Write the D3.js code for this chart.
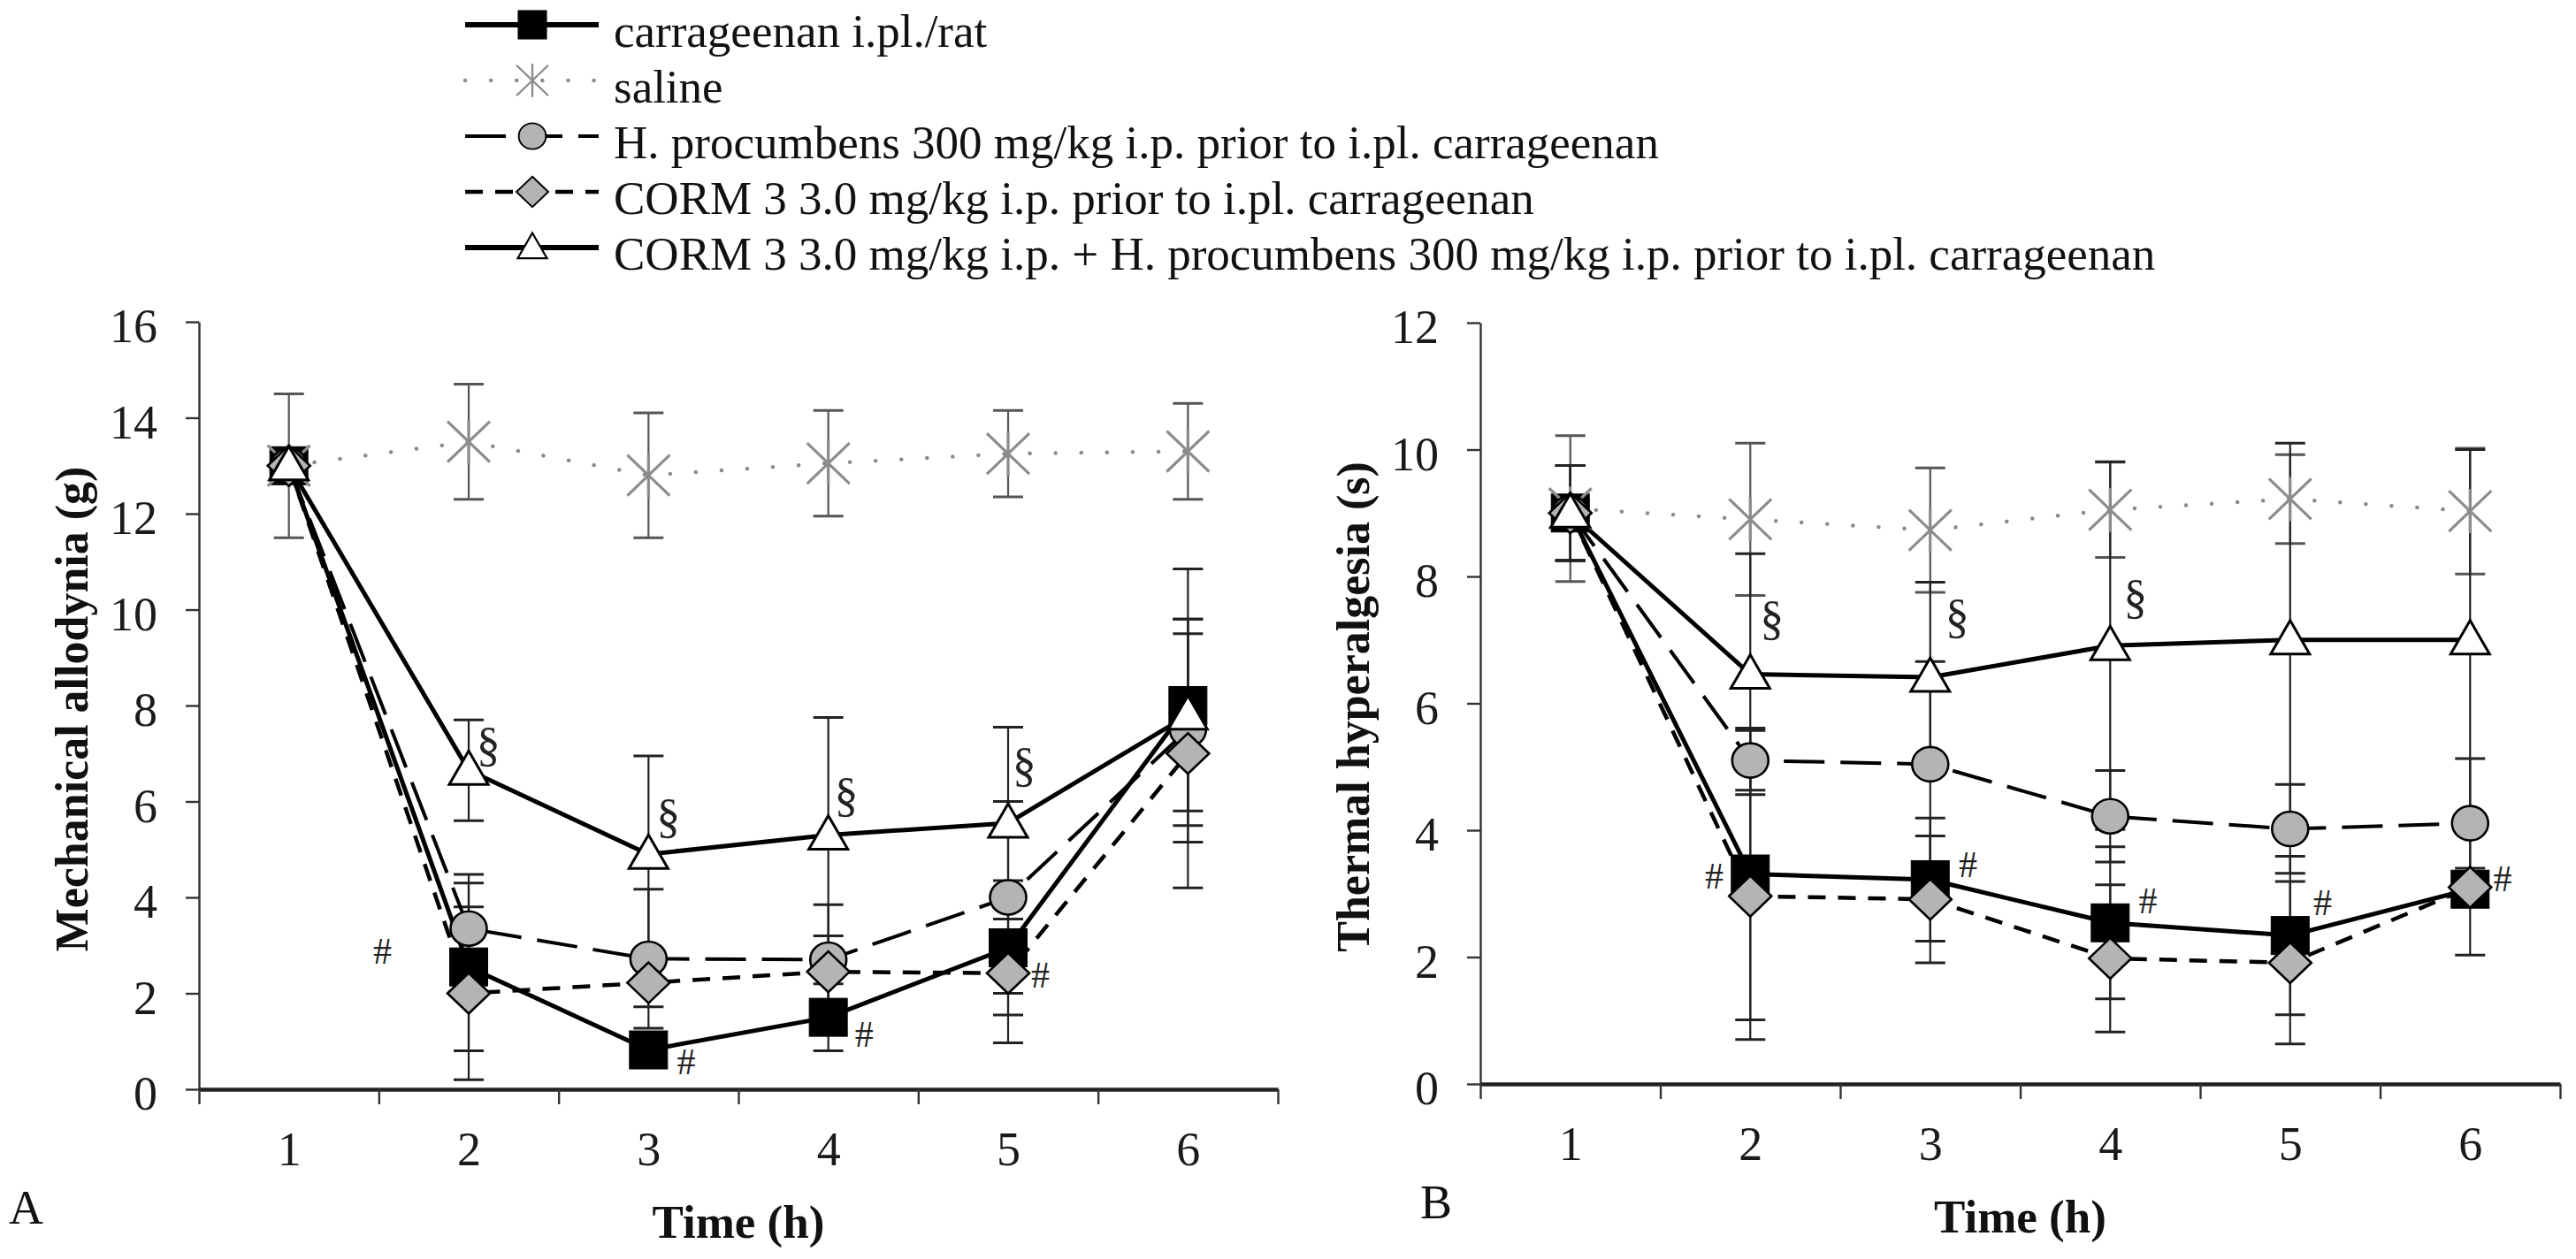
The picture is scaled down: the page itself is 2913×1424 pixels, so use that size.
<!DOCTYPE html>
<html><head><meta charset="utf-8">
<script src="https://cdn.jsdelivr.net/npm/d3@7"></script>
<style>
body{margin:0;background:#fff}
svg{display:block;background:#fff}
svg text{font-family:"Liberation Serif","Times New Roman",Times,serif}
</style>
</head><body>
<svg id="c" width="2913" height="1424"></svg>
<script>
// ---------------- DATA ----------------
const times = [1, 2, 3, 4, 5, 6];
const seriesNames = [
  "carrageenan i.pl./rat",
  "saline",
  "H. procumbens 300 mg/kg i.p. prior to i.pl. carrageenan",
  "CORM 3 3.0 mg/kg i.p. prior to i.pl. carrageenan",
  "CORM 3 3.0 mg/kg i.p. + H. procumbens 300 mg/kg i.p. prior to i.pl. carrageenan"
];

// Panel A: Mechanical allodynia (g)
const carrA    = [13.0, 2.55, 0.82, 1.50, 2.95, 8.00];
const carrAErr = [0.3, 1.75, 0.35, 0.70, 1.40, 2.85];
const salA     = [13.0, 13.5, 12.8, 13.05, 13.25, 13.3];
const salAErr  = [1.5, 1.2, 1.3, 1.1, 0.9, 1.0];
const hpA      = [13.0, 3.35, 2.72, 2.70, 4.00, 7.50];
const hpAErr   = [0.3, 1.13, 1.45, 1.15, 2.00, 2.00];
const cormA    = [13.0, 2.00, 2.22, 2.45, 2.42, 7.00];
const cormAErr = [0.3, 1.80, 0.50, 0.75, 1.45, 2.80];
const combA    = [13.0, 6.65, 4.90, 5.30, 5.55, 7.80];
const combAErr = [0.3, 1.05, 2.05, 2.45, 2.00, 2.00];
const yTicksA  = [0, 2, 4, 6, 8, 10, 12, 14, 16];
const hashA    = [[1.52, 2.88], [3.21, 0.59], [4.20, 1.16], [5.18, 2.40]];
const sectA    = [[2.11, 7.19], [3.11, 5.70], [4.10, 6.14], [5.09, 6.76]];

// Panel B: Thermal hyperalgesia (s)
const carrB    = [9.0, 3.31, 3.22, 2.54, 2.34, 3.07];
const carrBErr = [0.75, 2.30, 0.97, 1.20, 1.25, 1.04];
const salB     = [9.07, 8.90, 8.73, 9.05, 9.22, 9.03];
const salBErr  = [1.15, 1.20, 0.98, 0.75, 0.70, 0.99];
const hpB      = [9.0, 5.10, 5.04, 4.22, 4.02, 4.11];
const hpBErr   = [0.75, 0.47, 1.62, 0.72, 0.70, 1.02];
const cormB    = [9.0, 2.96, 2.91, 1.98, 1.91, 3.10];
const cormBErr = [0.75, 2.26, 1.00, 1.16, 1.28, 0.30];
const combB    = [9.0, 6.46, 6.41, 6.91, 7.00, 7.00];
const combBErr = [0.75, 1.90, 1.50, 2.90, 3.10, 3.00];
const yTicksB  = [0, 2, 4, 6, 8, 10, 12];
const hashB    = [[1.80, 3.29], [3.21, 3.47], [4.21, 2.89], [5.18, 2.87], [6.18, 3.24]];
const sectB    = [[2.12, 7.34], [3.15, 7.37], [4.14, 7.67]];

// ---------------- STYLE ----------------
const SERIF = "Liberation Serif, Times New Roman, Times, serif";
const styles = [
  {marker: "square",   line: "#000",    width: 5,   dash: null},
  {marker: "asterisk", line: "#8c8c8c", width: 4.5, dash: "0.1,29", cap: "round"},
  {marker: "circle",   line: "#000",    width: 4,   dash: "46,18"},
  {marker: "diamond",  line: "#000",    width: 4.5, dash: "20,14"},
  {marker: "triangle", line: "#000",    width: 5,   dash: null}
];

const svg = d3.select("#c");

function drawMarker(g, type, cx, cy, s) {
  const t = g.append("g").attr("transform", `translate(${cx},${cy}) scale(${s})`);
  if (type === "square") {
    t.append("rect").attr("x", -21.5).attr("y", -21.5).attr("width", 43).attr("height", 43)
      .attr("fill", "#000").attr("stroke", "#000").attr("stroke-width", 1);
  } else if (type === "circle") {
    t.append("ellipse").attr("rx", 20.5).attr("ry", 19.5)
      .attr("fill", "#b4b4b4").attr("stroke", "#000").attr("stroke-width", 2.6);
  } else if (type === "diamond") {
    t.append("path").attr("d", "M0,-23L24,0L0,23L-24,0Z")
      .attr("fill", "#b4b4b4").attr("stroke", "#000").attr("stroke-width", 2.6);
  } else if (type === "triangle") {
    t.append("path").attr("d", "M0,-22L22,16L-22,16Z")
      .attr("fill", "#fff").attr("stroke", "#000").attr("stroke-width", 3);
  } else if (type === "asterisk") {
    t.append("path").attr("d", "M-24,-23L24,23M24,-23L-24,23M0,-25L0,25")
      .attr("fill", "none").attr("stroke", "#8c8c8c").attr("stroke-width", 3.2);
  }
}

function panel(cfg) {
  const x = d3.scaleLinear().domain([0.5, 6.5]).range(cfg.xRange);
  const y = d3.scaleLinear().domain(cfg.yDomain).range(cfg.yRange);
  const g = svg.append("g");

  const yAx = g.append("g").attr("transform", `translate(${cfg.xRange[0]},0)`)
    .call(d3.axisLeft(y).tickValues(cfg.yTicks).tickSize(15).tickPadding(32).tickSizeOuter(0));
  yAx.attr("font-family", SERIF);
  yAx.select(".domain").attr("stroke", "#333").attr("stroke-width", 2.4);
  yAx.selectAll(".tick line").attr("stroke", "#333").attr("stroke-width", 2.4);
  yAx.selectAll(".tick text").attr("font-size", 54).attr("fill", "#1a1a1a").attr("dy", "0.42em");

  const xMarks = g.append("g").attr("transform", `translate(0,${cfg.yRange[0]})`)
    .call(d3.axisBottom(x).tickValues(d3.range(0.5, 7, 1)).tickSize(17).tickFormat("").tickSizeOuter(0));
  xMarks.select(".domain").attr("stroke", "#222").attr("stroke-width", 4.5);
  xMarks.selectAll(".tick line").attr("stroke", "#333").attr("stroke-width", 2.4);
  const xLab = g.append("g").attr("transform", `translate(0,${cfg.yRange[0]})`)
    .call(d3.axisBottom(x).tickValues(times).tickSize(0).tickPadding(0).tickFormat(d3.format("d")));
  xLab.attr("font-family", SERIF);
  xLab.select(".domain").remove();
  xLab.selectAll(".tick text").attr("font-size", 54).attr("fill", "#1a1a1a").attr("dy", null).attr("y", 86);

  g.append("text").attr("x", (cfg.xRange[0] + cfg.xRange[1]) / 2).attr("y", cfg.yRange[0] + 168)
    .attr("text-anchor", "middle").attr("font-weight", "bold")
    .attr("font-size", 53).attr("fill", "#111").text("Time (h)");
  g.append("text")
    .attr("transform", `translate(${cfg.xRange[0] - 126},${(cfg.yRange[0] + cfg.yRange[1]) / 2 + 4}) rotate(-90)`)
    .attr("text-anchor", "middle").attr("font-weight", "bold")
    .attr("font-size", 52).attr("fill", "#111").text(cfg.yTitle);
  g.append("text").attr("x", cfg.labelX).attr("y", cfg.yRange[0] + 152)
    .attr("font-size", 54).attr("fill", "#111").text(cfg.label);

  const series = cfg.series;
  series.forEach((s, i) => {
    const col = i === 1 ? "#555" : "#222";
    times.forEach((t, k) => {
      const cx = x(t), lo = y(s.v[k] - s.e[k]), hi = y(s.v[k] + s.e[k]);
      g.append("line").attr("x1", cx).attr("x2", cx).attr("y1", lo).attr("y2", hi)
        .attr("stroke", col).attr("stroke-width", 2.2);
      [lo, hi].forEach(yy => g.append("line").attr("x1", cx - 17).attr("x2", cx + 17)
        .attr("y1", yy).attr("y2", yy).attr("stroke", col).attr("stroke-width", 3));
    });
  });
  const lineGen = d3.line().x((d, k) => x(times[k])).y(d => y(d));
  series.forEach((s, i) => {
    const st = styles[i];
    g.append("path").attr("d", lineGen(s.v)).attr("fill", "none")
      .attr("stroke", st.line).attr("stroke-width", st.width)
      .attr("stroke-dasharray", st.dash).attr("stroke-linecap", st.cap || "butt")
      .attr("stroke-linejoin", "round");
  });
  series.forEach((s, i) => {
    times.forEach((t, k) => drawMarker(g, styles[i].marker, x(t), y(s.v[k]), 1));
  });
  cfg.hash.forEach(([t, v]) => g.append("text").attr("x", x(t)).attr("y", y(v)).attr("dy", "0.35em")
    .attr("text-anchor", "middle").attr("font-size", 42).attr("fill", "#222").text("#"));
  cfg.sect.forEach(([t, v]) => g.append("text").attr("x", x(t)).attr("y", y(v)).attr("dy", "0.33em")
    .attr("text-anchor", "middle").attr("font-size", 54).attr("fill", "#222").text("§"));
}

panel({
  xRange: [225, 1445], yRange: [1232, 364], yDomain: [0, 16], yTicks: yTicksA,
  yTitle: "Mechanical allodynia (g)", label: "A", labelX: 10,
  series: [
    {v: carrA, e: carrAErr}, {v: salA, e: salAErr}, {v: hpA, e: hpAErr},
    {v: cormA, e: cormAErr}, {v: combA, e: combAErr}
  ],
  hash: hashA, sect: sectA
});
panel({
  xRange: [1674, 2895], yRange: [1226, 365], yDomain: [0, 12], yTicks: yTicksB,
  yTitle: "Thermal hyperalgesia (s)", label: "B", labelX: 1606,
  series: [
    {v: carrB, e: carrBErr}, {v: salB, e: salBErr}, {v: hpB, e: hpBErr},
    {v: cormB, e: cormBErr}, {v: combB, e: combBErr}
  ],
  hash: hashB, sect: sectB
});

// ---------------- LEGEND ----------------
const leg = svg.append("g");
seriesNames.forEach((name, i) => {
  const base = 53 + 63 * i, my = base - 25;
  const st = styles[i];
  leg.append("line").attr("x1", 526).attr("x2", 677).attr("y1", my).attr("y2", my)
    .attr("stroke", st.line).attr("stroke-width", i === 0 || i === 4 ? 6 : st.width)
    .attr("stroke-dasharray", st.dash).attr("stroke-linecap", st.cap || "butt");
  drawMarker(leg, st.marker, 602, my, 0.75);
  leg.append("text").attr("x", 694).attr("y", base)
    .attr("font-size", 53).attr("fill", "#111").text(name);
});
</script>
</body></html>
